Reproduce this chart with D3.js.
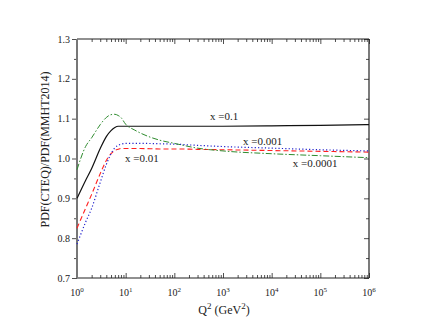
<!DOCTYPE html>
<html>
<head>
<meta charset="utf-8">
<script src="https://cdn.jsdelivr.net/npm/d3@7"></script>
<style>
body { margin: 0; background: #fff; }
</style>
</head>
<body>
<script>
// Q^2 grid (GeV^2) shared by all curves
var q2 = [1, 1.5, 2, 3, 4, 5, 6, 7, 8, 10, 15, 20, 50, 100, 300, 1e3, 1e4, 1e5, 1e6];

// PDF(CTEQ)/PDF(MMHT2014) for each x
var x01    = [0.900, 0.945, 0.975, 1.025, 1.055, 1.070, 1.078, 1.081, 1.081, 1.081, 1.081, 1.081, 1.081, 1.081, 1.081, 1.081, 1.082, 1.083, 1.085];
var x001   = [0.825, 0.875, 0.910, 0.962, 0.995, 1.012, 1.020, 1.023, 1.025, 1.025, 1.025, 1.025, 1.024, 1.024, 1.023, 1.022, 1.020, 1.018, 1.016];
var x0001  = [0.785, 0.840, 0.875, 0.940, 0.985, 1.012, 1.027, 1.033, 1.036, 1.038, 1.038, 1.038, 1.037, 1.036, 1.033, 1.030, 1.026, 1.022, 1.019];
var x00001 = [0.972, 1.030, 1.052, 1.085, 1.103, 1.110, 1.111, 1.108, 1.103, 1.086, 1.072, 1.064, 1.046, 1.038, 1.026, 1.019, 1.012, 1.007, 1.002];

var yTicks = [0.7, 0.8, 0.9, 1.0, 1.1, 1.2, 1.3];
var xTicks = [1, 10, 100, 1e3, 1e4, 1e5, 1e6];

// label anchors, in data units (Q^2, ratio)
var labelText = ["x =0.1", "x =0.001", "x =0.01", "x =0.0001"];
var labelQ2   = [540, 2570, 9.7, 27200];
var labelY    = [1.0965, 1.0337, 0.991, 0.978];

var font = "Liberation Serif";

var width = 430, height = 333;
var margin = {top: 39, right: 61, bottom: 55, left: 77};
var w = width - margin.left - margin.right;
var h = height - margin.top - margin.bottom;

var svg = d3.select("body").append("svg")
    .attr("width", width)
    .attr("height", height)
    .attr("font-family", font);

var g = svg.append("g")
    .attr("transform", "translate(" + margin.left + "," + margin.top + ")");

var x = d3.scaleLog().domain([1, 1e6]).range([0, w]);
var y = d3.scaleLinear().domain([0.7, 1.3]).range([h, 0]);

// minor tick values
var xMinor = [];
for (var e = 0; e < 6; e++) {
    for (var k = 2; k <= 9; k++) xMinor.push(k * Math.pow(10, e));
}
var yMinor = d3.range(0.75, 1.3, 0.1);

// bottom axis, ticks pointing in
g.append("g").attr("transform", "translate(0," + h + ")")
    .call(d3.axisBottom(x).tickValues(xTicks).tickSize(-5).tickFormat(""));
g.append("g").attr("transform", "translate(0," + h + ")")
    .call(d3.axisBottom(x).tickValues(xMinor).tickSize(-3).tickFormat(""));
// top axis
g.append("g")
    .call(d3.axisTop(x).tickValues(xTicks).tickSize(-5).tickFormat(""));
g.append("g")
    .call(d3.axisTop(x).tickValues(xMinor).tickSize(-3).tickFormat(""));
// left axis, ticks out
g.append("g")
    .call(d3.axisLeft(y).tickValues(yTicks).tickSize(5).tickFormat(""));
g.append("g")
    .call(d3.axisLeft(y).tickValues(yMinor).tickSize(3).tickFormat(""));
// right axis, ticks in
g.append("g").attr("transform", "translate(" + w + ",0)")
    .call(d3.axisRight(y).tickValues(yTicks).tickSize(-5).tickFormat(""));
g.append("g").attr("transform", "translate(" + w + ",0)")
    .call(d3.axisRight(y).tickValues(yMinor).tickSize(-3).tickFormat(""));

g.selectAll(".domain").remove();
g.selectAll(".tick line").attr("stroke", "#222").attr("stroke-width", 0.8);

// frame
g.append("line").attr("x1", 0).attr("x2", w).attr("y1", 0).attr("y2", 0)
    .attr("stroke", "#222").attr("stroke-width", 1.2);
g.append("line").attr("x1", 0).attr("x2", w).attr("y1", h).attr("y2", h)
    .attr("stroke", "#222").attr("stroke-width", 1.2);
g.append("line").attr("x1", w).attr("x2", w).attr("y1", 0).attr("y2", h)
    .attr("stroke", "#222").attr("stroke-width", 1.2);
g.append("line").attr("x1", 0).attr("x2", 0).attr("y1", 0).attr("y2", h)
    .attr("stroke", "#777").attr("stroke-width", 2);

// y tick labels
g.selectAll(".ylab").data(yTicks).enter().append("text")
    .attr("x", -7)
    .attr("y", function(d) { return y(d); })
    .attr("dy", "0.35em")
    .attr("text-anchor", "end")
    .attr("font-family", font)
    .attr("font-size", 10)
    .attr("fill", "#222")
    .text(function(d) { return d.toFixed(1); });

// x tick labels 10^n
var xl = g.selectAll(".xlab").data(xTicks).enter().append("text")
    .attr("x", function(d) { return x(d); })
    .attr("y", h + 18)
    .attr("text-anchor", "middle")
    .attr("font-family", font)
    .attr("font-size", 10)
    .attr("fill", "#222");
xl.append("tspan").text("10");
xl.append("tspan").attr("dy", -4).attr("font-size", 7)
    .text(function(d) { return Math.round(Math.log10(d)); });

// axis titles
var xt = svg.append("text")
    .attr("x", 224)
    .attr("y", 314)
    .attr("text-anchor", "middle")
    .attr("font-family", font)
    .attr("font-size", 12)
    .attr("fill", "#222");
xt.append("tspan").text("Q");
xt.append("tspan").attr("dy", -5).attr("font-size", 9).text("2");
xt.append("tspan").attr("dy", 5).text(" (GeV");
xt.append("tspan").attr("dy", -5).attr("font-size", 9).text("2");
xt.append("tspan").attr("dy", 5).text(")");

svg.append("text")
    .attr("transform", "translate(49," + (margin.top + h / 2 - 9) + ") rotate(-90)")
    .attr("text-anchor", "middle")
    .attr("font-family", font)
    .attr("font-size", 12)
    .attr("fill", "#222")
    .text("PDF(CTEQ)/PDF(MMHT2014)");

// curves
var series = [
    {vals: x01,    color: "#111111", dash: null,          width: 1.2},
    {vals: x001,   color: "#ff2020", dash: "5,3",         width: 1.1},
    {vals: x0001,  color: "#2020cc", dash: "1.2,2.2",     width: 1.2},
    {vals: x00001, color: "#2e8b2e", dash: "6,2,1.5,2",   width: 1.0}
];

var line = d3.line()
    .x(function(d, i) { return x(q2[i]); })
    .y(function(d) { return y(d); })
    .curve(d3.curveMonotoneX);

g.selectAll(".curve").data(series).enter().append("path")
    .attr("fill", "none")
    .attr("stroke", function(d) { return d.color; })
    .attr("stroke-width", function(d) { return d.width; })
    .attr("stroke-dasharray", function(d) { return d.dash; })
    .attr("d", function(d) { return line(d.vals); });

// curve labels
g.selectAll(".clab").data(labelText).enter().append("text")
    .attr("x", function(d, i) { return x(labelQ2[i]); })
    .attr("y", function(d, i) { return y(labelY[i]); })
    .attr("font-family", font)
    .attr("font-size", 11)
    .attr("fill", "#222")
    .text(function(d) { return d; });
</script>
</body>
</html>
